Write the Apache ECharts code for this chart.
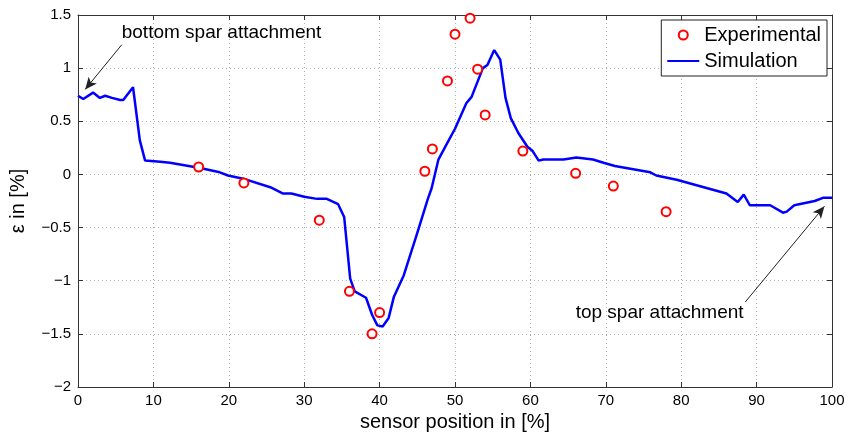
<!DOCTYPE html>
<html><head><meta charset="utf-8">
<script src="https://cdn.jsdelivr.net/npm/echarts@6/dist/echarts.min.js"></script>
<style>html,body{margin:0;padding:0;background:#fff}#c{width:849px;height:432px}</style>
</head><body><div id="c"></div>
<script>
const simX = [0,0.7,2.0,2.9,3.6,4.5,5.6,6.0,7.3,8.2,8.9,10.9,12.2,16.2,18.8,19.9,21.9,25.5,27.2,28.3,30.0,31.7,33.0,34.5,35.3,36.1,36.7,38.2,39.0,39.7,40.4,41.2,41.9,43.2,45.0,46.4,46.9,47.8,48.7,50.0,51.5,52.2,53.7,54.3,55.2,56.0,56.7,57.4,58.4,59.6,60.3,61.1,61.7,64.4,66.1,68.3,69.7,71.2,75.9,76.7,79.4,86.0,87.5,88.3,89.1,91.8,93.5,94.0,95.0,97.7,98.8,100];
const simY = [0.74,0.71,0.77,0.72,0.74,0.72,0.70,0.70,0.82,0.32,0.13,0.12,0.11,0.06,0.02,-0.01,-0.04,-0.12,-0.18,-0.18,-0.21,-0.23,-0.23,-0.28,-0.40,-0.98,-1.10,-1.16,-1.32,-1.42,-1.43,-1.35,-1.15,-0.95,-0.55,-0.23,-0.13,0.14,0.26,0.43,0.67,0.73,1.00,1.03,1.17,1.08,0.72,0.53,0.39,0.26,0.22,0.13,0.14,0.14,0.16,0.14,0.11,0.08,0.02,-0.01,-0.05,-0.18,-0.26,-0.19,-0.29,-0.29,-0.36,-0.35,-0.29,-0.25,-0.22,-0.22];
const expX = [16,22,32,36,39,40,46,47,49,50,52,53,54,59,66,71,78];
const expY = [0.07,-0.08,-0.43,-1.10,-1.50,-1.30,0.03,0.24,0.88,1.32,1.47,0.99,0.56,0.22,0.01,-0.11,-0.35];
const seriesNames = ['Experimental','Simulation'];
const annTexts = ['bottom spar attachment','top spar attachment'];
const annArrows = [[[5.8,1.22],[0.95,0.80]],[[88.5,-1.20],[99.0,-0.30]]];
const annLabelPos = [[5.8,1.33],[66.0,-1.30]];

const font = 'Liberation Sans, Arial, Helvetica, sans-serif';
const chart = echarts.init(document.getElementById('c'), null, {renderer:'canvas'});
const fmtMinus = v => String(v).replace('-', '\u2212');
const gridLine = {show:true, lineStyle:{color:'#b0b0b0', type:[1,3], width:1}};
const boxLine = {show:true, onZero:false, lineStyle:{color:'#333', width:1}};
const inTick = {show:true, inside:true, length:5, lineStyle:{color:'#333'}};
chart.setOption({
  animation:false,
  backgroundColor:'#fff',
  grid:{left:78, right:17, top:15, bottom:45, containLabel:false, outerBoundsMode:'none'},
  legend:{
    data:[
      {name:seriesNames[0], icon:'emptyCircle', itemStyle:{color:'#ff0000', borderColor:'#ff0000', borderWidth:2, opacity:1}},
      {name:seriesNames[1], icon:'path://M0,0 L0,0.01 M0,3.6 L32,3.6 L32,5.4 L0,5.4 Z M0,9 L0,9.01', itemStyle:{color:'#0000ff', borderWidth:0}}
    ],
    orient:'vertical', right:22, top:20,
    backgroundColor:'#fff', borderColor:'#222', borderWidth:1,
    padding:[5,6,5,6], itemWidth:32, itemHeight:9, itemGap:6,
    textStyle:{fontFamily:font, fontSize:20, color:'#000', lineHeight:20}
  },
  xAxis:[{
    type:'value', min:0, max:100, interval:10,
    name:'sensor position in [%]', nameLocation:'middle', nameGap:24,
    nameTextStyle:{fontFamily:font, fontSize:20, color:'#000'},
    axisLine:boxLine, axisTick:inTick,
    axisLabel:{fontFamily:font, fontSize:15, color:'#000', margin:6},
    splitLine:gridLine
  },{
    type:'value', min:0, max:100, interval:10, position:'top',
    axisLine:boxLine, axisTick:inTick,
    axisLabel:{show:false}, splitLine:{show:false}
  }],
  yAxis:[{
    type:'value', min:-2, max:1.5, interval:0.5,
    name:'\u03b5 in [%]', nameLocation:'middle', nameGap:50, nameRotate:90,
    nameTextStyle:{fontFamily:font, fontSize:20, color:'#000'},
    axisLine:boxLine, axisTick:inTick,
    axisLabel:{fontFamily:font, fontSize:15, color:'#000', margin:7, formatter:fmtMinus},
    splitLine:gridLine
  },{
    type:'value', min:-2, max:1.5, interval:0.5, position:'right',
    axisLine:boxLine, axisTick:inTick,
    axisLabel:{show:false}, splitLine:{show:false}
  }],
  series:[{
    name:seriesNames[1], type:'line', symbol:'none', z:3,
    data: simX.map((x,i)=>[x, simY[i]]),
    lineStyle:{color:'#0000ff', width:2.5}, itemStyle:{color:'#0000ff'},
    markLine:{
      silent:true, symbol:['none','arrow'], symbolSize:[8,12],
      lineStyle:{color:'#222', width:1, type:'solid'}, label:{show:false},
      data: annArrows.map(a=>[{coord:a[0]},{coord:a[1]}])
    },
    markPoint:{
      silent:true, symbol:'circle', symbolSize:0,
      label:{show:true, position:'right', distance:0, fontFamily:font, fontSize:19, color:'#000',
             formatter:p=>p.name},
      data: annLabelPos.map((c,i)=>({name:annTexts[i], coord:c}))
    }
  },{
    name:seriesNames[0], type:'scatter', symbol:'emptyCircle', symbolSize:9, z:4,
    data: expX.map((x,i)=>[x, expY[i]]),
    itemStyle:{color:'#ff0000', borderColor:'#ff0000', borderWidth:2, opacity:1}
  }]
});
</script></body></html>
